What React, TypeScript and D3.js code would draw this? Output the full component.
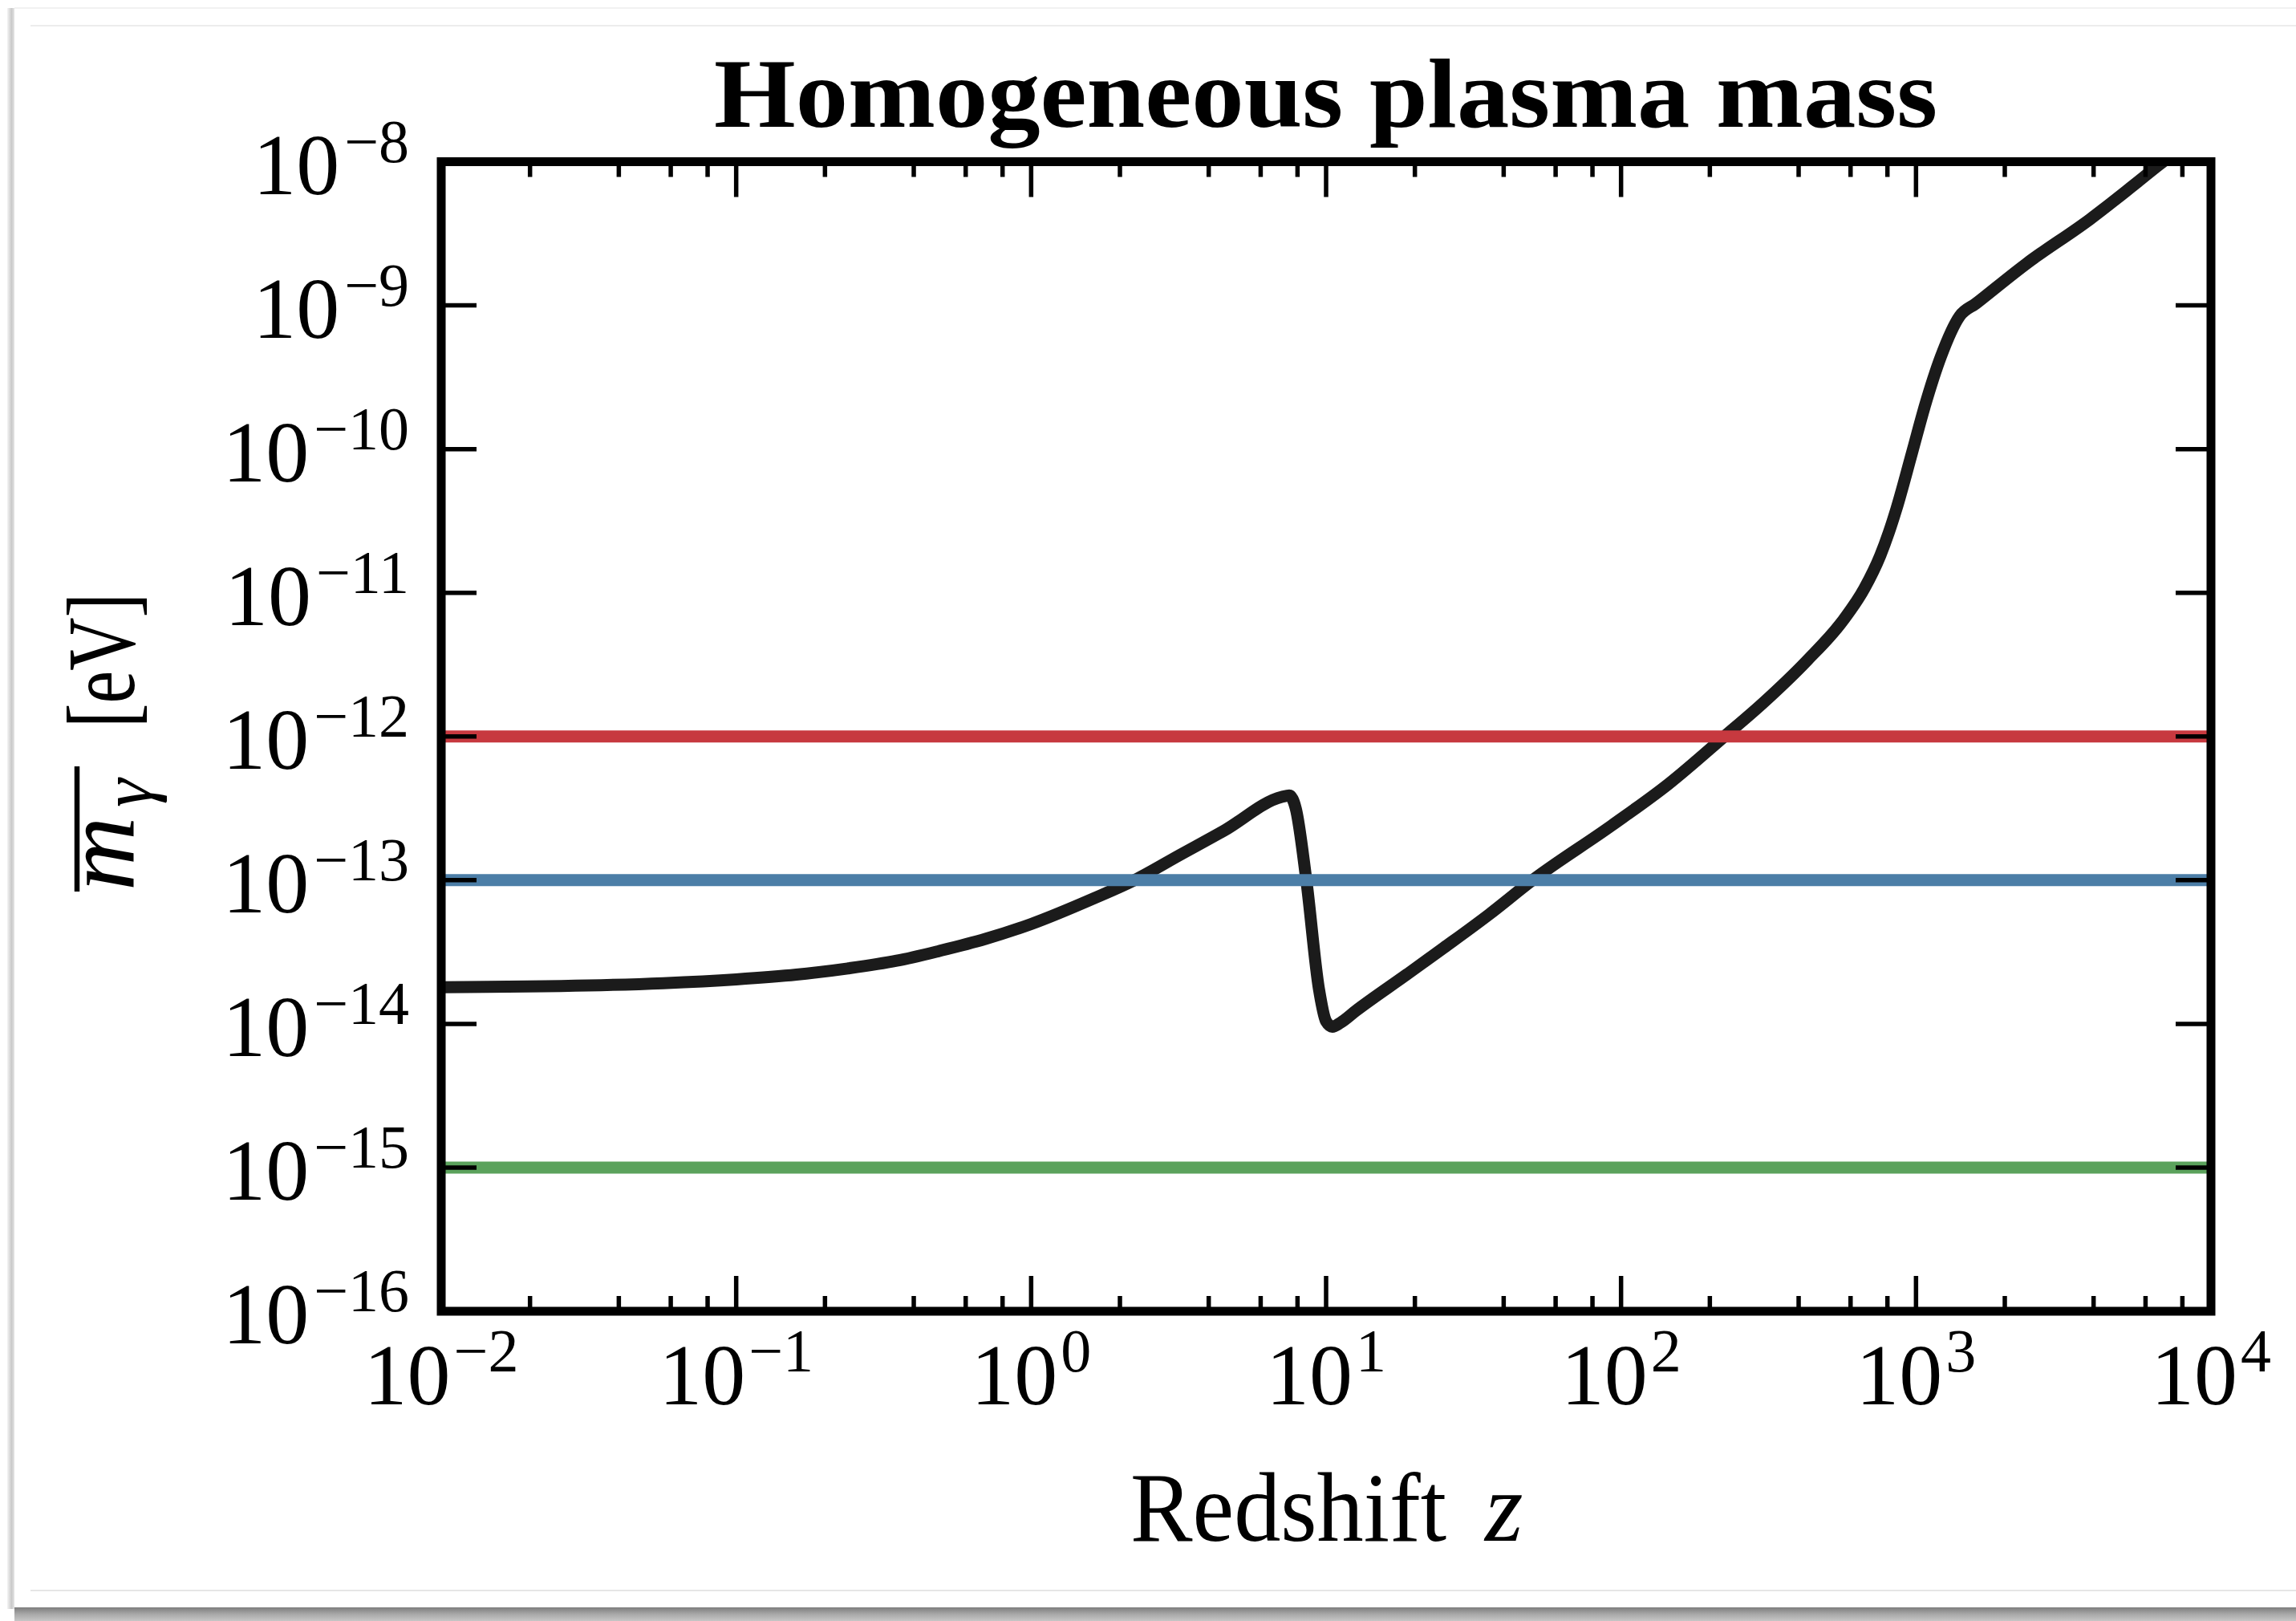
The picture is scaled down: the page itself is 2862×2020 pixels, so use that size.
import React from 'react';
import * as d3 from 'd3';

// ---- data ----
const redshift = [0.01, 0.0316, 0.0566, 0.1, 0.16, 0.239, 0.35, 0.489, 0.7, 1.0, 1.64, 2.24, 3.2, 4.49, 7.08, 7.5, 7.89, 8.57, 9.46, 10.0, 10.5, 11.2, 12.6, 18.8, 25.1, 35.6, 50.1, 92.9, 145, 224, 302, 428, 562, 668, 757, 810, 857, 971, 1072, 1213, 1406, 1596, 2366, 3890, 5649, 6887, 7586];
const plasmaMass = [1.80e-14, 1.85e-14, 1.92e-14, 2.04e-14, 2.2e-14, 2.43e-14, 2.75e-14, 3.22e-14, 3.9e-14, 4.95e-14, 7.5e-14, 1.0e-13, 1.5e-13, 2.2e-13, 3.80e-13, 3.89e-13, 3.16e-13, 1.0e-13, 1.74e-14, 1.04e-14, 9.55e-15, 1.02e-14, 1.23e-14, 2.21e-14, 3.39e-14, 5.75e-14, 1.0e-13, 2.40e-13, 4.68e-13, 1.0e-12, 1.70e-12, 3.39e-12, 6.31e-12, 1.07e-11, 1.82e-11, 2.65e-11, 3.80e-11, 9.55e-11, 2.0e-10, 4.37e-10, 8.41e-10, 1.03e-9, 1.95e-9, 3.98e-9, 7.24e-9, 1.0e-8, 1.15e-8];
const referenceMasses = [1e-12, 1e-13, 1e-15];
const referenceColors = ['#c7393f', '#4c7ea7', '#5ba25c'];
const xTickExponents = [-2, -1, 0, 1, 2, 3, 4];
const yTickExponents = [-16, -15, -14, -13, -12, -11, -10, -9, -8];
const minorSubs = [2, 4, 6, 8];
const titleText = 'Homogeneous plasma mass';

const W = 2862;
const H = 2020;
const L = 550, R = 2756, T = 201.5, B = 1634;
const FONT = "'Liberation Serif', 'DejaVu Serif', serif";

export default function App() {
  const x = d3.scaleLog().domain([1e-2, 1e4]).range([L, R]);
  const y = d3.scaleLog().domain([1e-16, 1e-8]).range([B, T]);
  const pts = redshift.map((z, i) => [z, plasmaMass[i]] as [number, number]);
  const line = d3.line<[number, number]>()
    .x(d => x(d[0]))
    .y(d => y(d[1]))
    .curve(d3.curveMonotoneX);

  const minorX: number[] = [];
  for (let e = -2; e < 4; e++) minorSubs.forEach(s => minorX.push(s * Math.pow(10, e)));

  const MAJ = 44, MIN = 19, TW = 5.5;

  return (
    <svg width={W} height={H} style={{ display: 'block', position: 'absolute', left: 0, top: 0 }}>
      <defs>
        <clipPath id="plotclip"><rect x={L} y={T} width={R - L} height={B - T} /></clipPath>
        <linearGradient id="leftShadow" x1="0" x2="1" y1="0" y2="0">
          <stop offset="0" stopColor="#f4f4f4" />
          <stop offset="0.6" stopColor="#c9c9c9" />
          <stop offset="1" stopColor="#e6e6e6" />
        </linearGradient>
        <linearGradient id="bottomShadow" x1="0" x2="0" y1="0" y2="1">
          <stop offset="0" stopColor="#7d7d7d" />
          <stop offset="0.5" stopColor="#a8a8a8" />
          <stop offset="1" stopColor="#c6c6c6" />
        </linearGradient>
      </defs>
      <rect x={0} y={0} width={W} height={H} fill="#ffffff" />
      <rect x={9} y={10} width={9} height={1995} fill="url(#leftShadow)" />
      <rect x={18} y={2003} width={W - 18} height={17} fill="url(#bottomShadow)" />
      <line x1={18} x2={W} y1={10} y2={10} stroke="#f1f1f1" strokeWidth={2} />
      <line x1={38} x2={W} y1={32} y2={32} stroke="#ececec" strokeWidth={2} />
      <line x1={38} x2={W} y1={1982} y2={1982} stroke="#e6e6e6" strokeWidth={2} />

      {/* title */}
      <text x={890} y={158} fontFamily={FONT} fontWeight="bold" fontSize={122}
        textLength={1525} lengthAdjust="spacingAndGlyphs" fill="#000">{titleText}</text>

      {/* data */}
      <g clipPath="url(#plotclip)">
        <path d={line(pts) || ''} fill="none" stroke="#1b1b1b" strokeWidth={15}
          strokeLinejoin="round" strokeLinecap="round" />
        {referenceMasses.map((m, i) => (
          <line key={m} x1={L} x2={R} y1={y(m)} y2={y(m)} stroke={referenceColors[i]} strokeWidth={15} />
        ))}
      </g>

      {/* ticks */}
      <g stroke="#000" strokeWidth={TW}>
        {xTickExponents.map(e => {
          const xx = x(Math.pow(10, e));
          return (
            <g key={'xt' + e}>
              <line x1={xx} x2={xx} y1={B} y2={B - MAJ} />
              <line x1={xx} x2={xx} y1={T} y2={T + MAJ} />
            </g>
          );
        })}
        {minorX.map(v => {
          const xx = x(v);
          return (
            <g key={'xm' + v}>
              <line x1={xx} x2={xx} y1={B} y2={B - MIN} />
              <line x1={xx} x2={xx} y1={T} y2={T + MIN} />
            </g>
          );
        })}
        {yTickExponents.map(e => {
          const yy = y(Math.pow(10, e));
          return (
            <g key={'yt' + e}>
              <line x1={L} x2={L + MAJ} y1={yy} y2={yy} />
              <line x1={R} x2={R - MAJ} y1={yy} y2={yy} />
            </g>
          );
        })}
      </g>

      {/* spines */}
      <rect x={L} y={T} width={R - L} height={B - T} fill="none" stroke="#000" strokeWidth={11} />

      {/* x tick labels */}
      {xTickExponents.map(e => (
        <text key={'xl' + e} x={x(Math.pow(10, e))} y={1750} textAnchor="middle" fontFamily={FONT} fontSize={108} fill="#000">
          <tspan>10</tspan>
          <tspan dx={4} dy={-41} fontSize={76}>{e < 0 ? '\u2212' + Math.abs(e) : String(e)}</tspan>
        </text>
      ))}

      {/* y tick labels */}
      {yTickExponents.map(e => (
        <text key={'yl' + e} x={510} y={y(Math.pow(10, e)) + 40} textAnchor="end" fontFamily={FONT} fontSize={108} fill="#000">
          <tspan>10</tspan>
          <tspan dx={6} dy={-40} fontSize={76}>{'\u2212' + Math.abs(e)}</tspan>
        </text>
      ))}

      {/* x label */}
      <text x={1409} y={1920} fontFamily={FONT} fontSize={122} textLength={394} lengthAdjust="spacingAndGlyphs" fill="#000">Redshift</text>
      <text x={1851} y={1920} fontFamily={FONT} fontSize={122} fontStyle="italic" fill="#000">z</text>

      {/* y label (rotated) */}
      <g transform="translate(167,0) rotate(-90)" fontFamily={FONT} fill="#000">
        <text x={-1110} y={0} fontSize={128} fontStyle="italic">m</text>
        <text x={-1006} y={22} fontSize={90} fontStyle="italic">γ</text>
        <line x1={-1111} x2={-955} y1={-71} y2={-71} stroke="#000" strokeWidth={6.5} />
        <text x={-907} y={0} fontSize={120} textLength={168} lengthAdjust="spacingAndGlyphs">[eV]</text>
      </g>
    </svg>
  );
}
